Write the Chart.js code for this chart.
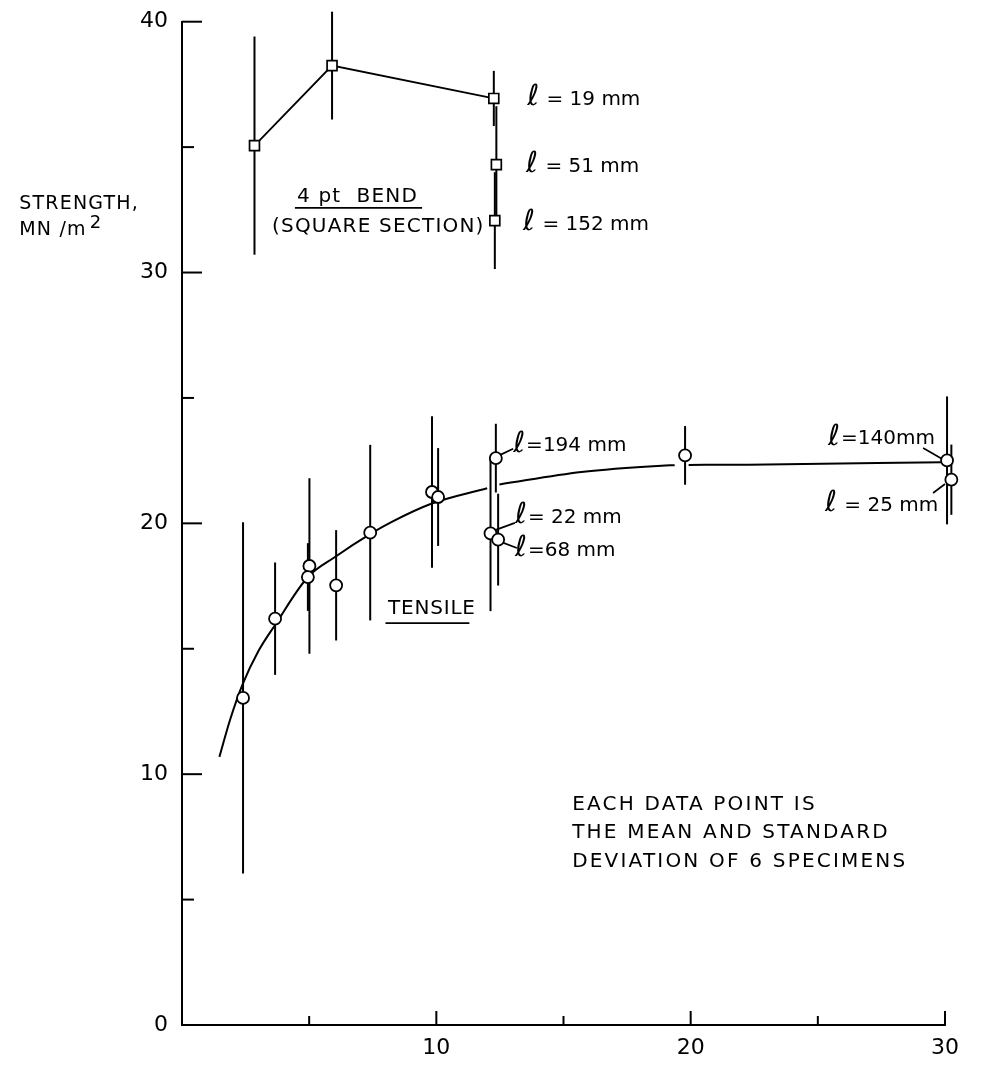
<!DOCTYPE html>
<html><head><meta charset="utf-8">
<script src="https://cdn.jsdelivr.net/npm/chart.js@4.4.1/dist/chart.umd.min.js"></script>
<style>html,body{margin:0;padding:0;background:#fff;}canvas{display:block}</style>
</head><body>
<canvas id="c" width="984" height="1065"></canvas>
<script>
// ---- data ----
// 4 pt bend, joined series (l = 19 mm at the end)
const bendX  = [2.85, 5.9, 12.26];
const bendY  = [35.06, 38.25, 36.94];
const bendSD = [4.35, 2.15, 1.1];
// 4 pt bend, other lengths (l = 51 mm, l = 152 mm)
const bendLenX  = [12.36, 12.3];
const bendLenY  = [34.3, 32.07];
const bendLenSD = [2.33, 1.93];
// tensile points
const tensX  = [2.4, 3.66, 5.01, 4.95, 6.06, 7.4, 9.83, 10.07, 12.34, 12.13, 12.43, 19.78, 30.08, 30.25];
const tensY  = [13.04, 16.2, 18.3, 17.86, 17.53, 19.63, 21.25, 21.05, 22.6, 19.6, 19.35, 22.71, 22.51, 21.74];
const tensSD = [7.0, 2.24, 3.5, 1.35, 2.2, 3.5, 3.02, 1.95, 1.37, 3.1, 1.83, 1.17, 2.55, 1.4];
// fitted tensile curve (null = pen lifted)
const curveX = [1.47, 1.9, 2.39, 3.0, 3.66, 4.95, 6.0, 7.44, 8.23, 9.8, 12.0, 12.24, 12.48, 15.7, 18.86, 19.37, 19.65, 19.92, 22.27, 29.9];
const curveY = [10.69, 12.2, 13.6, 14.9, 15.95, 17.86, 18.65, 19.6, 20.05, 20.78, 21.4, null, 21.55, 22.05, 22.3, 22.32, null, 22.33, 22.34, 22.44];
// tick labels
const xTickLabels = ['10', '20', '30'];
const yTickLabels = ['0', '10', '20', '30', '40'];

// ---- annotations (data coordinates) ----
const FONT = '"DejaVu Sans", sans-serif';
const texts = [
  {t:'ℓ = 19 mm',  x:13.57, y:36.9},
  {t:'ℓ = 51 mm',  x:13.53, y:34.23},
  {t:'ℓ = 152 mm', x:13.41, y:31.92},
  {t:'ℓ=194 mm',   x:13.02, y:23.08},
  {t:'ℓ= 22 mm',   x:13.09, y:20.22},
  {t:'ℓ=68 mm',    x:13.09, y:18.9},
  {t:'ℓ=140mm',    x:25.4,  y:23.36},
  {t:'ℓ = 25 mm',  x:25.28, y:20.7},
  {t:'4 pt  BEND', x:4.52, y:33.03, ls:1.2, ul:[4.44, 9.44, 32.58]},
  {t:'(SQUARE SECTION)', x:3.54, y:31.84, ls:1.2},
  {t:'TENSILE', x:8.1, y:16.6, ls:0.8, ul:[8.0, 11.3, 16.02]},
  {t:'EACH DATA POINT IS', x:15.34, y:8.76, ls:2.2},
  {t:'THE MEAN AND STANDARD', x:15.34, y:7.68, ls:2.2},
  {t:'DEVIATION OF 6 SPECIMENS', x:15.34, y:6.49, ls:2.2},
  {t:'STRENGTH,', x:-6.4, y:32.72, ls:1.2, size:19},
  {t:'MN /m', x:-6.4, y:31.68, ls:1.2, size:19, sup:'2'}
];
const leaders = [
  [12.43, 22.69, 13.02, 22.97],
  [12.23, 19.70, 13.09, 20.02],
  [12.43, 19.30, 13.17, 19.02],
  [29.14, 23.00, 29.89, 22.57],
  [29.53, 21.21, 30.00, 21.57]
];

const pts = (xs, ys) => xs.map((v, i) => ({x: v, y: ys[i]}));

const drawPlugin = {
  id: 'extras',
  beforeDatasetsDraw(chart) {
    const {ctx, scales: {x, y}} = chart;
    ctx.save();
    ctx.strokeStyle = '#000';
    ctx.lineWidth = 2;
    const bars = (xs, ys, sds) => xs.forEach((v, i) => {
      const px = x.getPixelForValue(v);
      ctx.beginPath();
      ctx.moveTo(px, y.getPixelForValue(ys[i] + sds[i]));
      ctx.lineTo(px, y.getPixelForValue(ys[i] - sds[i]));
      ctx.stroke();
    });
    bars(bendX, bendY, bendSD);
    bars(bendLenX, bendLenY, bendLenSD);
    bars(tensX, tensY, tensSD);
    ctx.lineWidth = 1.7;
    leaders.forEach(l => {
      ctx.beginPath();
      ctx.moveTo(x.getPixelForValue(l[0]), y.getPixelForValue(l[1]));
      ctx.lineTo(x.getPixelForValue(l[2]), y.getPixelForValue(l[3]));
      ctx.stroke();
    });
    ctx.restore();
  },
  afterDraw(chart) {
    const {ctx, scales: {x, y}} = chart;
    ctx.save();
    ctx.strokeStyle = '#000';
    ctx.lineWidth = 2;
    // inward tick marks
    const x0 = x.left, yb = y.bottom;
    y.ticks.forEach(t => {
      if (t.value === 0) return;
      const py = y.getPixelForValue(t.value);
      const len = t.value % 10 === 0 ? 20 : 12;
      ctx.beginPath(); ctx.moveTo(x0, py); ctx.lineTo(x0 + len, py); ctx.stroke();
    });
    x.ticks.forEach(t => {
      if (t.value === 0) return;
      const px = x.getPixelForValue(t.value);
      const len = t.value % 10 === 0 ? 14 : 9;
      ctx.beginPath(); ctx.moveTo(px, yb); ctx.lineTo(px, yb - len); ctx.stroke();
    });
    // texts
    ctx.fillStyle = '#000';
    ctx.textBaseline = 'middle';
    ctx.textAlign = 'left';
    texts.forEach(o => {
      let px = x.getPixelForValue(o.x);
      const py = y.getPixelForValue(o.y);
      const size = o.size || 20;
      ctx.letterSpacing = (o.ls || 0) + 'px';
      let s = o.t;
      if (s.startsWith('ℓ')) {
        ctx.font = '29px "DejaVu Sans", sans-serif';
        ctx.fillText('ℓ', px, py - 2);
        px += ctx.measureText('ℓ').width + 1;
        s = s.slice(1);
      }
      ctx.font = size + 'px ' + FONT;
      ctx.fillText(s, px, py);
      const w = ctx.measureText(s).width;
      if (o.sup) {
        ctx.font = (size - 1) + 'px ' + FONT;
        ctx.fillText(o.sup, px + w + 3, py - 7);
      }
      if (o.ul) {
        const uy = y.getPixelForValue(o.ul[2]);
        ctx.lineWidth = 1.8;
        ctx.beginPath();
        ctx.moveTo(x.getPixelForValue(o.ul[0]), uy);
        ctx.lineTo(x.getPixelForValue(o.ul[1]), uy);
        ctx.stroke();
      }
    });
    ctx.restore();
  }
};

new Chart(document.getElementById('c'), {
  type: 'scatter',
  data: {
    datasets: [
      {
        label: 'bend',
        data: pts(bendX, bendY),
        showLine: true,
        borderColor: '#000', borderWidth: 1.8,
        pointStyle: 'rect', pointRadius: 7, pointBorderWidth: 1.7,
        pointBackgroundColor: '#fff', pointBorderColor: '#000',
        clip: false
      },
      {
        label: 'bend lengths',
        data: pts(bendLenX, bendLenY),
        showLine: false,
        pointStyle: 'rect', pointRadius: 7, pointBorderWidth: 1.7,
        pointBackgroundColor: '#fff', pointBorderColor: '#000',
        clip: false
      },
      {
        label: 'tensile',
        data: pts(tensX, tensY),
        showLine: false,
        pointStyle: 'circle', pointRadius: 6, pointBorderWidth: 1.8,
        pointBackgroundColor: '#fff', pointBorderColor: '#000',
        clip: false
      },
      {
        label: 'curve',
        data: pts(curveX, curveY),
        showLine: true, spanGaps: false,
        cubicInterpolationMode: 'monotone',
        borderColor: '#000', borderWidth: 2,
        pointRadius: 0,
        clip: false
      }
    ]
  },
  options: {
    responsive: false,
    animation: false,
    devicePixelRatio: 1,
    layout: {padding: {left: 0, right: 39, top: 20, bottom: 0}},
    plugins: {legend: {display: false}, tooltip: {enabled: false}},
    scales: {
      x: {
        type: 'linear', min: 0, max: 30,
        grid: {display: false, drawTicks: false},
        border: {display: true, color: '#000', width: 2},
        ticks: {
          stepSize: 5, autoSkip: false, maxRotation: 0, padding: 10,
          color: '#000', font: {family: 'DejaVu Sans', size: 22},
          callback: v => xTickLabels.includes(String(v)) ? String(v) : ''
        },
        afterFit: s => { s.height = 40; }
      },
      y: {
        type: 'linear', min: 0, max: 40,
        grid: {display: false, drawTicks: false},
        border: {display: true, color: '#000', width: 2},
        ticks: {
          stepSize: 5, autoSkip: false, padding: 14,
          color: '#000', font: {family: 'DejaVu Sans', size: 22, lineHeight: 0.7},
          callback: v => yTickLabels.includes(String(v)) ? String(v) : ''
        },
        afterFit: s => { s.width = 182; }
      }
    }
  },
  plugins: [drawPlugin]
});
</script>
</body></html>
